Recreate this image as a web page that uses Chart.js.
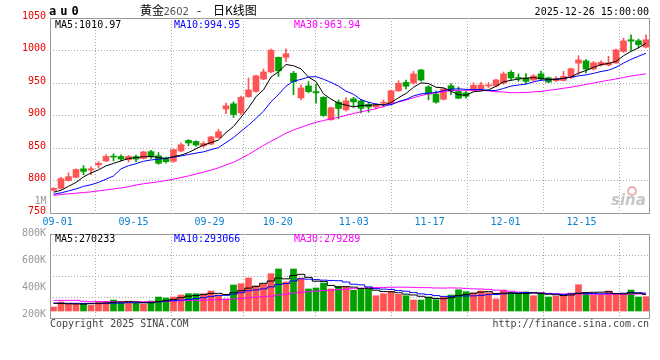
<!DOCTYPE html>
<html><head><meta charset="utf-8">
<script src="https://cdn.jsdelivr.net/npm/chart.js@4.4.1/dist/chart.umd.min.js"></script>
<style>
html,body{margin:0;padding:0;background:#fff;}
#wrap{position:relative;width:660px;height:360px;overflow:hidden;background:#fff}
canvas{position:absolute;left:0}
#c1{top:0;width:660px;height:232px}
#c2{top:224px;width:660px;height:136px}
</style></head><body>
<div id="wrap"><canvas id="c1" width="660" height="232"></canvas><canvas id="c2" width="660" height="136"></canvas></div>
<script>
// ---------- data ----------
const dates = ['08-29',
 '09-01','09-02','09-03','09-04','09-05','09-08','09-09','09-10','09-11','09-12',
 '09-15','09-16','09-17','09-18','09-19','09-22','09-23','09-24','09-25','09-26',
 '09-29','09-30','10-09','10-10','10-13','10-14','10-15','10-16','10-17',
 '10-20','10-21','10-22','10-23','10-24','10-27','10-28','10-29','10-30','10-31',
 '11-03','11-04','11-05','11-06','11-07','11-10','11-11','11-12','11-13','11-14',
 '11-17','11-18','11-19','11-20','11-21','11-24','11-25','11-26','11-27','11-28',
 '12-01','12-02','12-03','12-04','12-05','12-08','12-09','12-10','12-11','12-12',
 '12-15','12-16','12-17','12-18','12-19','12-22','12-23','12-24','12-25','12-26'];
const openP = [785,788,800,805,818,816,824,830,836.5,837,
 832,836.8,834,844.4,838,833,829.6,845.5,861.7,860,
 853.5,856,866,910,918,904,929,937,956,967,
 989.5,989.5,965,927,945.5,936.8,928,893.4,920.5,908.7,
 925.6,922.5,917,913,919,918,938,951,950,970,
 944,933,925,945.8,937,934.8,938,941,945.5,945.5,
 950,966.4,958.5,958,954.5,964,958,953.6,954,958.5,
 980.5,984,971.5,977.7,977.7,980.8,998.6,1016.5,1015,1005.4];
const highP = [789,805,812,818,823,821,829,840,841,839.5,
 838.5,839,845,846.4,843,836,848.5,857.7,863,861,
 860,868,879,919,921,930,957.7,962,971.5,1002,
 990,1002.4,968,947,952,948.5,929,913,924,927.6,
 928,925,920,918,924,939,953.6,954.6,968,971,
 946,938,942,949,944,937,950.5,951,950.5,956,
 967,969,964,964.5,963,968.5,959,960,968,973,
 992,986,983,984,991,1002,1019,1024,1017.6,1024];
const lowP = [784,787,799,804,809,809,819,829,830,830,
 828.6,829,833,834,825,826.5,828,844,853.6,853,
 851,855,865,903,897,901,928,936,955,966,
 960,982.7,932,924,935,919,898.5,893,895,907,
 913,904,905,910,913,917,937,941,948,953,
 924,919,924,932,926,926.6,937,940,943,944,
 948,955,952.5,949,953,954,950.5,952,953,957,
 963,965.5,970,976,976,980,997,1000,1004,1004];
const closeP = [788,803,806,817,814,818,826.5,837,836,833,
 837,833,844,837,826.5,829,847.5,855,857.7,854.6,
 857,867,875,915,901.5,928,939.4,961,967,1000.5,
 968.7,995,952,942.4,936.8,934.8,900,912,910.7,922.5,
 921,911,913,916,920.5,938,949.6,945,964,954.5,
 933,920.5,941,938.5,926.6,929.7,946.5,947,947,954.7,
 964,957.7,957,952.5,961,956,951.5,957,960,972,
 985.5,971.5,981,981.7,981,1001,1014.8,1014.5,1009,1016.6];
const ma5 = [782,785,791,797,805.6,811.6,816.3,822.5,826.3,830.1,
 833.9,835.2,836.6,836.8,835.5,833.9,836.8,839,843.1,848.8,
 854.4,858.3,862.3,873.7,883.1,897.3,911.8,929,939.4,959.2,
 967.3,978.4,976.6,971.7,959,952.2,933.2,925.2,918.9,916,
 913.2,915.4,915.6,916.7,916.3,919.7,927.4,933.8,943.4,950.2,
 949.2,943.4,942.6,937.5,931.9,931.3,936.5,937.7,939.4,945,
 951.8,954.1,956.1,957.2,958.4,956.8,955.6,955.6,957.1,959.3,
 965.2,969.2,974,978.3,980.1,983.2,991.9,998.6,1004.1,1011.2];
const ma10 = [779,781,784,787,791,793.5,797,802,807,817.9,
 822.8,825.8,829.6,831.6,832.8,833.9,836,837.8,840,842.1,
 844.1,847.5,850.6,858.4,865.9,875.8,885,895.6,906.6,921.1,
 932.3,945.1,952.8,955.6,959.1,959.8,955.8,950.9,945.3,937.5,
 932.7,924.3,920.4,917.8,916.2,916.5,921.4,924.7,930.1,933.3,
 934.5,935.4,938.2,940.5,941.1,940.2,939.9,940.1,938.4,938.5,
 941.6,945.3,946.9,948.3,951.7,954.3,954.8,955.8,957.1,958.9,
 961,962.4,964.8,967.7,969.7,974.2,980.6,986.3,991.2,995.7];
const ma30 = [777,778.5,779.5,780.5,781.5,782.5,784,785.5,787,788.5,
 790.5,793,795,796.5,798,800,802,804.5,807,810,
 813,816,819.5,824,828,834,840,847,854,860.4,
 866.4,872.8,877.7,881.8,885.9,889.8,892.3,894.8,897.3,900.3,
 903.1,905.7,908,910.6,913.7,917.4,920.8,923.8,927.3,930.6,
 933.2,935,937.1,937.9,938.8,938.8,939.1,938.6,937.9,936.4,
 936.2,935,935.2,935.5,936.3,937,938.7,940.2,941.9,943.5,
 945.7,947.7,950,952.2,954.2,956.3,958.4,960.8,962.3,964.3];
const volume = [65,147,114,114,126,93,158,158,179,135,
 135,126,114,163,228,212,228,261,282,282,
 282,326,261,196,424,445,538,408,445,608,
 685,473,685,538,359,375,456,359,403,391,
 337,354,363,249,282,321,272,249,179,179,
 228,184,233,261,347,315,293,326,298,196,
 342,305,282,310,249,293,228,240,249,293,
 429,293,261,261,326,272,277,342,228,233].map(v => v * 1000);
const volMa5 = [125,122,118,115,113,119,121,130,143,145,
 153,147,138,135,153,169,189,218,242,253,
 267,287,287,269,298,330,373,402,452,489,
 537,524,579,598,548,486,482,417,390,397,
 389,369,370,339,317,314,298,275,261,240,
 222,204,201,217,251,268,290,308,316,286,
 291,293,285,287,298,288,273,264,252,261,
 288,301,305,307,314,283,279,296,289,271].map(v => v * 1000);
const volMa10 = [128,127,126,125,124,124,125,126,127,129,
 136,134,134,139,149,161,168,178,188,203,
 218,238,252,256,275,299,330,344,361,393,
 433,448,490,525,518,511,503,498,494,472,
 437,426,393,365,357,352,333,322,300,279,
 268,251,238,239,245,245,247,255,267,268,
 280,292,296,301,292,289,283,274,269,279,
 288,287,285,280,287,285,290,300,298,292].map(v => v * 1000);
const volMa30 = [174,174,174,174,160,152,152,152,152,152,
 152,152,152,152,152,160,165,168,170,172,
 175,180,185,190,195,205,215,225,235,242,
 262,273,292,306,314,324,333,340,348,356,
 363,370,379,382,384,387,389,388,385,381,
 380,375,374,376,374,369,361,358,353,340,
 328,323,309,302,298,295,288,284,279,275,
 278,276,273,273,275,273,273,276,278,280].map(v => v * 1000);
const xTickDates = ['09-01','09-15','09-29','10-20','11-03','11-17','12-01','12-15'];
const priceTicks = [750,800,850,900,950,1000,1050];
const volTicks = [200000,400000,600000,800000];
const titleCode = 'au0', titleName = '黄金', titleContract = '2602', titleKind = '日K线图';
const stamp = '2025-12-26 15:00:00';
const priceLegend = [['MA5:', '1010.97'], ['MA10:', '994.95'], ['MA30:', '963.94']];
const volLegend = [['MA5:', '270233'], ['MA10:', '293066'], ['MA30:', '279289']];

// ---------- styles ----------
const RED = '#ff5454', GREEN = '#00a000';
const MONO = '10px "DejaVu Sans Mono", monospace';
const MONOF = { family: '"DejaVu Sans Mono", monospace', size: 10 };
const LEFT = 50, RIGHT = 650;
const tickPos = xTickDates.map(d => { const i = dates.indexOf(d); return i - 0.45 + 0.0122 * (i - 1); });
const upDown = closeP.map((c, i) => c >= openP[i] ? RED : GREEN);
const idx = dates.map((d, i) => i);
const xMin = -0.4667, xMax = 79.533;

function fixWidth(w) { return s => { s.width = w; }; }
function xScale(showLabels) {
  return {
    type: 'linear', min: xMin, max: xMax, offset: false,
    afterBuildTicks: s => { s.ticks = tickPos.map(v => ({ value: v })); },
    ticks: {
      display: showLabels, autoSkip: false, maxRotation: 0, padding: 3,
      color: '#0a82d2', font: MONOF,
      callback: (v, i) => xTickDates[i]
    },
    grid: { color: '#aaa', lineWidth: 1, drawTicks: false },
    border: { display: false, dash: [1, 2] }
  };
}

const framePlugin = (top, bottom, texts) => ({
  id: 'frame' + top,
  afterDraw(chart) {
    const ctx = chart.ctx;
    ctx.save();
    ctx.strokeStyle = '#999'; ctx.lineWidth = 1; ctx.setLineDash([]);
    ctx.strokeRect(LEFT + 0.5, top + 0.5, RIGHT - LEFT - 1, bottom - top);
    texts(ctx, chart);
    ctx.restore();
  }
});

function drawLegend(ctx, items, y) {
  const xs = [55, 174, 294];
  const cols = ['#000', '#0000ff', '#ff00ff'];
  ctx.font = MONO; ctx.textBaseline = 'alphabetic'; ctx.textAlign = 'left';
  items.forEach((it, i) => { ctx.fillStyle = cols[i]; ctx.fillText(it[0] + it[1], xs[i], y); });
}

// ---------- price chart ----------
new Chart(document.getElementById('c1'), {
  type: 'bar',
  data: {
    datasets: [
      { type: 'line', label: 'MA5', data: idx.map(i => ({ x: i, y: ma5[i] })), borderColor: '#000', borderWidth: 1, pointRadius: 0, order: 0 },
      { type: 'line', label: 'MA10', data: idx.map(i => ({ x: i, y: ma10[i] })), borderColor: '#0000ff', borderWidth: 1, pointRadius: 0, order: 0 },
      { type: 'line', label: 'MA30', data: idx.map(i => ({ x: i, y: ma30[i] })), borderColor: '#ff00ff', borderWidth: 1, pointRadius: 0, order: 0 },
      { label: 'wick', data: idx.map(i => ({ x: i, y: [lowP[i], highP[i]] })), backgroundColor: upDown, barThickness: 1, grouped: false, order: 2, minBarLength: 1 },
      { label: 'body', data: idx.map(i => ({ x: i, y: [openP[i], closeP[i]] })), backgroundColor: upDown, barThickness: 6, grouped: false, order: 1, minBarLength: 1 }
    ]
  },
  options: {
    responsive: false, animation: false, devicePixelRatio: 1,
    layout: { padding: { left: 0, right: 660 - RIGHT, top: 18, bottom: 0 } },
    plugins: { legend: { display: false }, tooltip: { enabled: false } },
    scales: {
      x: Object.assign(xScale(true), { afterFit: s => { s.height = 232 - 213; } }),
      y: {
        min: 750, max: 1050,
        afterBuildTicks: s => { s.ticks = priceTicks.map(v => ({ value: v })); },
        afterFit: fixWidth(LEFT),
        ticks: { color: '#ee0000', padding: 4, labelOffset: -2, font: MONOF, callback: v => String(v) },
        grid: { color: c => (c.tick && (c.tick.value === 750 || c.tick.value === 1050)) ? 'rgba(0,0,0,0)' : '#aaa', drawTicks: false },
        border: { display: false, dash: [1, 2] }
      }
    }
  },
  plugins: [framePlugin(18, 213, (ctx) => {
    ctx.textBaseline = 'alphabetic';
    ctx.fillStyle = '#000';
    ctx.font = 'bold 12px "DejaVu Sans Mono", monospace';
    ctx.letterSpacing = '4px';
    ctx.fillText(titleCode, 49, 15);
    ctx.letterSpacing = '0px';
    ctx.font = '12px "Noto Sans CJK SC", sans-serif';
    ctx.fillText(titleName, 140, 15);
    ctx.fillStyle = '#555';
    ctx.font = '10px "DejaVu Sans", sans-serif';
    ctx.fillText(titleContract, 163.5, 15);
    ctx.fillStyle = '#000';
    ctx.font = '12px "Noto Sans CJK SC", sans-serif';
    ctx.fillText('-', 197, 15);
    ctx.fillText(titleKind, 213, 15);
    ctx.font = MONO; ctx.textAlign = 'right';
    ctx.fillText(stamp, 649, 15);
    ctx.fillStyle = '#999';
    ctx.fillText('1M', 46.5, 204);
    ctx.textAlign = 'left';
    drawLegend(ctx, priceLegend, 27.5);
    // sina watermark
    ctx.fillStyle = 'rgba(150,150,150,0.55)';
    ctx.font = 'italic bold 15px "DejaVu Sans", sans-serif';
    ctx.fillText('sina', 611, 205);
    ctx.strokeStyle = 'rgba(230,120,120,0.6)'; ctx.lineWidth = 2;
    ctx.beginPath(); ctx.arc(632, 191, 4, 0, Math.PI * 2); ctx.stroke();
  })]
});

// ---------- volume chart ----------
// canvas c2 starts at page y=224; panel frame 234..318 on the page
const VTOP = 10, VBOT = 94, VH = 136;
const VMIN = -114000, VMAX = 1255000;
new Chart(document.getElementById('c2'), {
  type: 'bar',
  data: {
    datasets: [
      { type: 'line', label: 'VMA5', data: idx.map(i => ({ x: i, y: volMa5[i] })), borderColor: '#000', borderWidth: 1, pointRadius: 0, stepped: 'middle', order: 0 },
      { type: 'line', label: 'VMA10', data: idx.map(i => ({ x: i, y: volMa10[i] })), borderColor: '#0000ff', borderWidth: 1, pointRadius: 0, stepped: 'middle', order: 0 },
      { type: 'line', label: 'VMA30', data: idx.map(i => ({ x: i, y: volMa30[i] })), borderColor: '#ff00ff', borderWidth: 1, pointRadius: 0, stepped: 'middle', order: 0 },
      { label: 'vol', data: idx.map(i => ({ x: i, y: volume[i] })), backgroundColor: upDown, barThickness: 6, order: 1 }
    ]
  },
  options: {
    responsive: false, animation: false, devicePixelRatio: 1,
    layout: { padding: { left: 0, right: 660 - RIGHT, top: VTOP, bottom: VH - VBOT } },
    plugins: { legend: { display: false }, tooltip: { enabled: false } },
    scales: {
      x: Object.assign(xScale(false), { display: true }),
      y: {
        min: VMIN, max: VMAX,
        afterBuildTicks: s => { s.ticks = [1, 2, 3].map(q => ({ value: VMIN + (VMAX - VMIN) * q / 4 })); },
        afterFit: fixWidth(0),
        ticks: { display: false },
        grid: { color: '#aaa', drawTicks: false },
        border: { display: false, dash: [1, 2] }
      },
      yl: {
        position: 'left',
        min: 170000, max: 792000,
        afterBuildTicks: s => { s.ticks = volTicks.map(v => ({ value: v })); },
        afterFit: fixWidth(LEFT),
        ticks: { color: '#999', padding: 4, font: MONOF, callback: v => (v / 1000) + 'K' },
        grid: { display: false, drawTicks: false },
        border: { display: false }
      }
    }
  },
  plugins: [framePlugin(VTOP, VBOT, (ctx) => {
    drawLegend(ctx, volLegend, VTOP + 7.5);
    ctx.font = MONO; ctx.fillStyle = '#444'; ctx.textAlign = 'left';
    ctx.fillText('Copyright 2025 SINA.COM', 50, VBOT + 9);
    ctx.textAlign = 'right';
    ctx.fillText('http://finance.sina.com.cn', 649, VBOT + 9);
  })]
});
</script>
</body></html>
